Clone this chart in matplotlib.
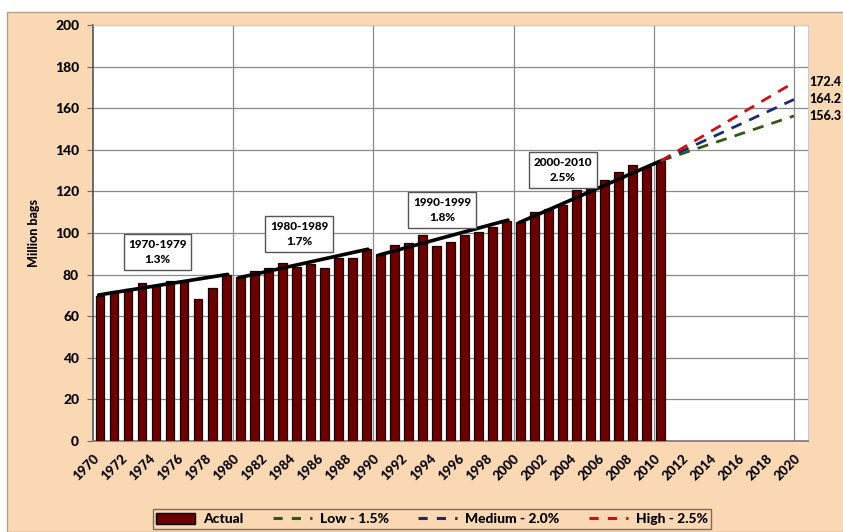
import numpy as np
import matplotlib
matplotlib.use("Agg")
import matplotlib.pyplot as plt
from matplotlib.patches import Rectangle, Patch
from matplotlib.lines import Line2D

plt.rcParams['font.family'] = ['Lato', 'DejaVu Sans']
W = "black"  # heaviest weight available

# --- data ---
years = list(range(1970, 2011))
actual = [69.7, 72.0, 73.0, 75.8, 75.0, 77.0, 77.0, 68.1, 73.4, 79.8,
          78.7, 81.7, 83.0, 85.4, 83.5, 85.0, 83.3, 87.8, 87.8, 92.1,
          89.7, 94.2, 95.2, 99.0, 93.6, 95.8, 99.0, 100.6, 102.7, 105.8,
          105.4, 110.2, 111.3, 113.5, 120.7, 121.2, 125.5, 129.2, 132.7, 131.9,
          134.5]

# decade trend segments
trend_start = [1970, 1980, 1990, 2000]
trend_end = [1979, 1989, 1999, 2010]
trend_v0 = [70.2, 78.5, 89.4, 105.0]
trend_v1 = [80.1, 92.2, 106.2, 135.0]
trend_labels = ["1970-1979", "1980-1989", "1990-1999", "2000-2010"]
trend_rates = ["1.3%", "1.7%", "1.8%", "2.5%"]
box_x = [1974.6, 1984.7, 1994.9, 2003.5]
box_y = [90.9, 99.5, 111.0, 130.3]

proj_years = [2010.5, 2020]
proj_names = ["Low - 1.5%", "Medium - 2.0%", "High - 2.5%"]
proj_start = [134.7, 134.7, 134.7]
proj_end = [156.3, 164.2, 172.4]
proj_text = ["156.3", "164.2", "172.4"]
proj_colors = ["#2f5a12", "#1a2a78", "#d01010"]

xtick_years = list(range(1970, 2021, 2))

PEACH = "#fad8b4"
BAR = "#6b0000"

fig = plt.figure(figsize=(8.43, 5.32), dpi=100, facecolor="white")
fig.patches.append(Rectangle((7 / 843, 0), 1, 1 - 12 / 532, transform=fig.transFigure,
                             facecolor=PEACH, edgecolor="#b0a090", lw=1.0, zorder=-10))

ax = fig.add_axes([93 / 843, 1 - 441 / 532, (808 - 93) / 843, (441 - 25) / 532])
ax.set_facecolor("white")

x = np.array(years) + 0.5
ax.bar(x, actual, width=0.62, color=BAR, edgecolor="#1c0000", linewidth=0.9, zorder=3)

for s, e, v0, v1 in zip(trend_start, trend_end, trend_v0, trend_v1):
    ax.plot([s + 0.4, e + 0.6], [v0, v1], color="black", lw=2.6, zorder=4,
            solid_capstyle="round")

for lab, rate, bx, by in zip(trend_labels, trend_rates, box_x, box_y):
    ax.text(bx, by, lab + "\n" + rate, ha="center", va="center", fontsize=8.5,
            fontweight=W, linespacing=1.5, zorder=6,
            bbox=dict(boxstyle="square,pad=0.4", facecolor="white", edgecolor="#555555", lw=1.0))

for v0, v1, c in zip(proj_start, proj_end, proj_colors):
    ax.plot(proj_years, [v0, v1], color=c, lw=2.0, ls=(0, (4, 3)), zorder=5)

for v, t in zip(proj_end, proj_text):
    ax.text(1.002, v, t, transform=ax.get_yaxis_transform(), ha="left", va="center",
            fontsize=9, fontweight=W, clip_on=False)

ax.set_xlim(1970, 2021)
ax.set_ylim(0, 200)
ax.set_yticks(range(0, 201, 20))
ax.set_xticks(xtick_years)
ax.set_xticklabels([str(y) for y in xtick_years], rotation=45, ha="right",
                   rotation_mode="anchor", fontsize=9.5, fontweight=W)
ax.tick_params(axis="x", length=0, pad=8)
ax.tick_params(axis="y", length=4, color="#666666", labelsize=10, pad=6)
for lab in ax.get_yticklabels():
    lab.set_fontweight(W)

ax.yaxis.grid(True, color="#8a8a8a", lw=0.9, zorder=0)
ax.set_axisbelow(True)
for dx in range(1980, 2021, 10):
    ax.axvline(dx, color="#8a8a8a", lw=0.9, zorder=0)

ax.spines["left"].set_color("#555555")
ax.spines["bottom"].set_color("#777777")
ax.spines["left"].set_linewidth(1.2)
ax.spines["bottom"].set_linewidth(1.2)
ax.spines["top"].set_color("#cccccc")
ax.spines["right"].set_color("#cccccc")

ax.set_ylabel("Million bags", fontsize=9, fontweight=W, labelpad=11)

handles = [Patch(facecolor=BAR, edgecolor="black", label="Actual")]
for name, c in zip(proj_names, proj_colors):
    handles.append(Line2D([0], [0], color=c, lw=2.2, ls=(0, (3, 3)), label=name))
leg = fig.legend(handles=handles, loc="center", bbox_to_anchor=(432 / 843, 1 - 519 / 532),
                 ncol=4, frameon=True, fancybox=False, handlelength=2.8,
                 columnspacing=2.1, borderpad=0.25, handleheight=0.9, handletextpad=0.6,
                 prop={"weight": W, "size": 10})
leg.get_frame().set_facecolor(PEACH)
leg.get_frame().set_edgecolor("#555555")
leg.get_frame().set_linewidth(1.0)

fig.savefig("out.png", dpi=100, facecolor=fig.get_facecolor())
